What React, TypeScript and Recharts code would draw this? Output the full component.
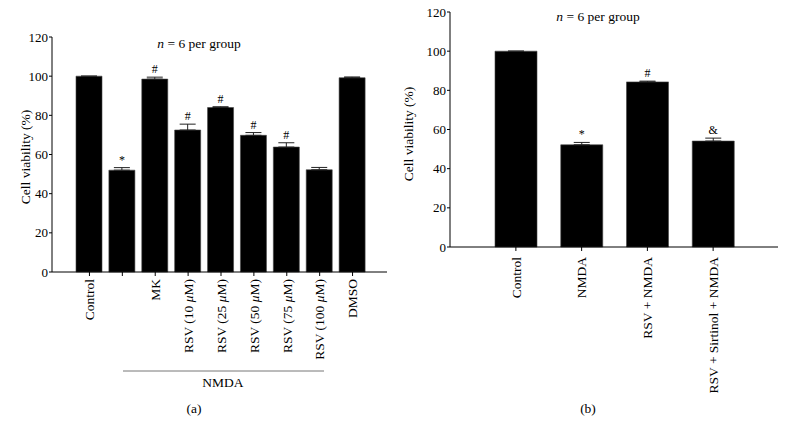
import { BarChart, Bar, XAxis, YAxis, ErrorBar, LabelList } from "recharts";

const FONT = "'Liberation Serif', 'Times New Roman', serif";

// panel (a)
const catsA = ["Control", "", "MK", "RSV (10 μM)", "RSV (25 μM)", "RSV (50 μM)", "RSV (75 μM)", "RSV (100 μM)", "DMSO"];
const valsA = [100, 52, 98.5, 72.5, 84, 69.8, 63.8, 52.2, 99.2];
const errsA = [0, 1.3, 1.0, 3.0, 0.4, 1.4, 2.2, 1.2, 0.4];
const marksA = ["", "*", "#", "#", "#", "#", "#", "", ""];

// panel (b)
const catsB = ["Control", "NMDA", "RSV + NMDA", "RSV + Sirtinol + NMDA"];
const valsB = [100, 52.2, 84.3, 54.1];
const errsB = [0, 1.2, 0.4, 1.5];
const marksB = ["", "*", "#", "&"];

const yTicks = [0, 20, 40, 60, 80, 100, 120];

const build = (cats: string[], vals: number[], errs: number[], marks: string[]) =>
  cats.map((c, i) => ({ name: c || `_${i}`, label: c, v: vals[i], e: errs[i], eb: [0, errs[i]], mark: marks[i] }));

const dataA = build(catsA, valsA, errsA, marksA);
const dataB = build(catsB, valsB, errsB, marksB);

function RotTick(props: any) {
  const { x, y, payload, gap } = props;
  const raw: string = payload.value.startsWith("_") ? "" : payload.value;
  const parts = raw.split("μ");
  return (
    <g transform={`translate(${x},${y + gap}) rotate(-90)`}>
      <text textAnchor="end" dy="0.35em" fontFamily={FONT} fontSize={13.5} fill="#000">
        {parts.map((p, i) => (
          <tspan key={i}>
            {i > 0 && <tspan fontStyle="italic">μ</tspan>}
            {p}
          </tspan>
        ))}
      </text>
    </g>
  );
}

function Panel({ data, width, top, right, xHeight, barSize, pad, gap }: any) {
  return (
    <BarChart width={width} height={434} data={data} margin={{ top, right, left: 0, bottom: 0 }}>
      <XAxis
        dataKey="name"
        height={xHeight}
        padding={pad}
        axisLine={{ stroke: "#000" }}
        tickLine={{ stroke: "#000" }}
        tickSize={4}
        tickMargin={2}
        interval={0}
        tick={(p: any) => <RotTick {...p} gap={gap} />}
      />
      <YAxis
        domain={[0, 120]}
        ticks={yTicks}
        width={52}
        axisLine={{ stroke: "#000" }}
        tickLine={{ stroke: "#000" }}
        tickSize={3}
        tickMargin={1}
        tick={{ fontFamily: FONT, fontSize: 13, fill: "#000" }}
      />
      <Bar dataKey="v" stackId="s" fill="#000" stroke="#444" strokeWidth={0.6} barSize={barSize} isAnimationActive={false}>
        <ErrorBar dataKey="eb" width={8} stroke="#222" strokeWidth={1} direction="y" />
      </Bar>
      <Bar dataKey="e" stackId="s" fill="none" stroke="none" barSize={barSize} isAnimationActive={false}>
        <LabelList dataKey="mark" position="top" offset={4} fontFamily={FONT} fontSize={12} fill="#000" />
      </Bar>
    </BarChart>
  );
}

export default function App() {
  return (
    <div style={{ position: "absolute", left: 0, top: 0, width: 786, height: 434, background: "#fff", fontFamily: FONT }}>
      <div style={{ position: "absolute", left: 0, top: 0 }}>
        <Panel data={dataA} width={400} top={37} right={13} xHeight={162} barSize={26} pad={{ left: 21, right: 18 }} gap={1} />
      </div>
      <div style={{ position: "absolute", left: 398, top: 0 }}>
        <Panel data={dataB} width={388} top={12} right={8} xHeight={187} barSize={42} pad={{ left: 33, right: 32 }} gap={4} />
      </div>
      <svg width={786} height={434} style={{ position: "absolute", left: 0, top: 0, pointerEvents: "none" }}>
        <g fontFamily={FONT} fontSize={13.5} fill="#000">
          <text x={199} y={48} textAnchor="middle">
            <tspan fontStyle="italic">n</tspan> = 6 per group
          </text>
          <text x={598} y={21} textAnchor="middle">
            <tspan fontStyle="italic">n</tspan> = 6 per group
          </text>
          <text transform="translate(25,157) rotate(-90)" textAnchor="middle" dy="0.35em">Cell viability (%)</text>
          <text transform="translate(408,134) rotate(-90)" textAnchor="middle" dy="0.35em">Cell viability (%)</text>
          <line x1={123} x2={324} y1={371} y2={371} stroke="#777" strokeWidth={1} />
          <text x={223} y={387} textAnchor="middle">NMDA</text>
          <text x={194} y={413} textAnchor="middle">(a)</text>
          <text x={588} y={413} textAnchor="middle">(b)</text>
        </g>
      </svg>
    </div>
  );
}
